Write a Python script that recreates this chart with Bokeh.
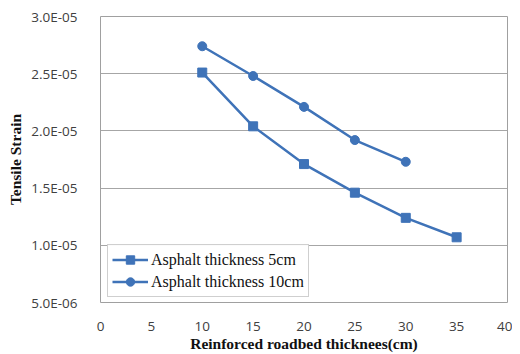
from bokeh.plotting import figure
from bokeh.models import FixedTicker, Legend, LegendItem, Range1d
from bokeh.embed import file_html
from bokeh.resources import INLINE

thickness_5cm_x = [10, 15, 20, 25, 30, 35]
strain_5cm = [2.51e-05, 2.04e-05, 1.71e-05, 1.46e-05, 1.24e-05, 1.07e-05]
thickness_10cm_x = [10, 15, 20, 25, 30]
strain_10cm = [2.74e-05, 2.48e-05, 2.21e-05, 1.92e-05, 1.73e-05]

y_ticks = [5e-06, 1e-05, 1.5e-05, 2e-05, 2.5e-05, 3e-05]
y_tick_labels = ["5.0E-06", "1.0E-05", "1.5E-05", "2.0E-05", "2.5E-05", "3.0E-05"]
x_ticks = [0, 5, 10, 15, 20, 25, 30, 35, 40]

color = "#3f73b8"

p = figure(width=512, height=354, output_backend="svg", toolbar_location=None,
           x_range=Range1d(0, 40), y_range=Range1d(5e-06, 3e-05),
           min_border_left=100, min_border_top=16, min_border_right=5, min_border_bottom=52)

p.outline_line_color = "#a0a0a0"
p.outline_line_width = 1
p.xgrid.grid_line_color = None
p.ygrid.grid_line_color = "#a6a6a6"
p.ygrid.grid_line_width = 1

p.yaxis.ticker = FixedTicker(ticks=y_ticks)
p.yaxis.major_label_overrides = {t: l for t, l in zip(y_ticks, y_tick_labels)}
p.xaxis.ticker = FixedTicker(ticks=x_ticks)

for ax in (p.xaxis[0], p.yaxis[0]):
    ax.axis_line_color = None
    ax.major_tick_line_color = None
    ax.minor_tick_line_color = None
    ax.major_label_text_font = "Open Sans"
    ax.major_label_text_font_size = "13.5px"
    ax.major_label_text_color = "#404040"
    ax.axis_label_text_font = "Liberation Serif"
    ax.axis_label_text_font_style = "bold"
    ax.axis_label_text_font_size = "15.5px"
    ax.axis_label_text_color = "#111111"

p.xaxis.axis_label = "Reinforced roadbed thicknees(cm)"
p.yaxis.axis_label = "Tensile Strain"
p.xaxis.major_label_standoff = 13
p.yaxis.major_label_standoff = 17
p.xaxis.axis_label_standoff = 1
p.yaxis.axis_label_standoff = 4

l1 = p.line(thickness_5cm_x, strain_5cm, line_color=color, line_width=2.5)
m1 = p.scatter(thickness_5cm_x, strain_5cm, marker="square", size=9, fill_color=color, line_color=color)
l2 = p.line(thickness_10cm_x, strain_10cm, line_color=color, line_width=2.5)
m2 = p.scatter(thickness_10cm_x, strain_10cm, marker="circle", size=9, fill_color=color, line_color=color)

legend = Legend(items=[
    LegendItem(label="Asphalt thickness 5cm", renderers=[l1, m1]),
    LegendItem(label="Asphalt thickness 10cm", renderers=[l2, m2]),
], location=(7, 5))
legend.margin = 0
legend.padding = 4
legend.spacing = 1
legend.label_text_font = "Liberation Serif"
legend.label_text_font_size = "16px"
legend.label_text_color = "#111111"
legend.border_line_color = "#a0a0a0"
legend.border_line_width = 1
legend.glyph_width = 36
legend.label_standoff = 3
legend.label_height = 21
legend.glyph_height = 21
p.add_layout(legend, "center")

open("out.html", "w").write(file_html(p, INLINE))
